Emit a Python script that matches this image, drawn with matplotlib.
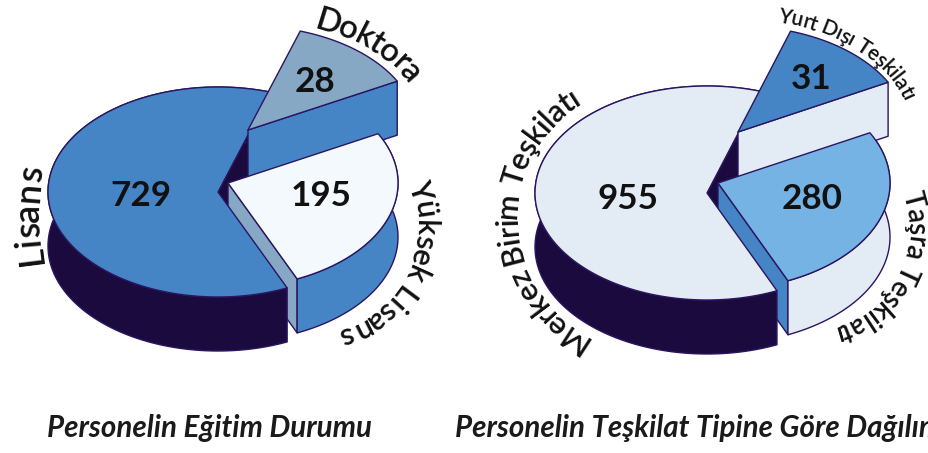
import numpy as np
import matplotlib
matplotlib.use('Agg')
import matplotlib.pyplot as plt
from matplotlib import font_manager as fm
from matplotlib.patches import Polygon
from matplotlib.textpath import TextPath

# chart values
edu_labels = ['Lisans', 'Yüksek Lisans', 'Doktora']
edu_values = [729, 195, 28]
org_labels = ['Merkez Birim Teşkilatı', 'Taşra Teşkilatı', 'Yurt Dışı Teşkilatı']
org_values = [955, 280, 31]
# slice sweeps as drawn in the picture (not proportional to the values there)
edu_sweeps = [222, 94, 44]
org_sweeps = [222, 94, 44]
edu_title = 'Personelin Eğitim Durumu'
org_title = 'Personelin Teşkilat Tipine Göre Dağılımı'

START_ANGLE = 72
DEPTH = 54
LINE = '#2A1560'
DARK = '#1B0A3D'
BLUE = '#4585C5'
GREY_BLUE = '#87A8C4'
WHITE_BLUE = '#F4F9FE'
PALE = '#E3EBF4'
SKY = '#74B3E3'

FONT = 'Lato'
PX = 0.72  # pixels to points at dpi=100


def arc(cx, cy, rx, ry, a0, a1, n=120):
    t = np.radians(np.linspace(a0, a1, n))
    return np.column_stack([cx + rx * np.cos(t), cy - ry * np.sin(t)])


def poly(ax, pts, color, zorder):
    ax.add_patch(Polygon(pts, closed=True, facecolor=color, edgecolor=LINE,
                         linewidth=1.0, joinstyle='round', zorder=zorder))


def draw_slice(ax, centre, radii, a0, sweep, top, wall, radial, z_radial, z_wall, z_top):
    cx, cy = centre
    rx, ry = radii
    rim = arc(cx, cy, rx, ry, a0, a0 + sweep)
    low = rim + [0, DEPTH]
    # side wall along the rim
    if wall is not None:
        poly(ax, np.vstack([rim, low[::-1]]), wall, z_wall)
    # cut face of the slice
    p = rim[0]
    poly(ax, [[cx, cy], p, p + [0, DEPTH], [cx, cy + DEPTH]], radial, z_radial)
    poly(ax, np.vstack([[cx, cy], rim]), top, z_top)


def curved_label(ax, text, cx, cy, rx, ry, mid, size, squeeze=1.0, weight='semibold'):
    """Place text letter by letter clockwise along an ellipse, centred on angle mid"""
    fp = fm.FontProperties(family=FONT, weight=weight)
    font = fm.get_font(fm.findfont(fp))
    font.set_size(size * PX, 100)
    full_adv = [font.load_char(ord(c)).linearHoriAdvance / 65536 for c in text]
    total = squeeze * sum(full_adv)

    t = np.radians(np.linspace(mid + 170, mid - 170, 3001))
    xs = cx + rx * np.cos(t)
    ys = cy - ry * np.sin(t)
    s = np.concatenate([[0], np.cumsum(np.hypot(np.diff(xs), np.diff(ys)))])
    s -= s[1500]

    pos = -total / 2
    for c, w in zip(text, full_adv):
        # matplotlib centres on the ink, so correct for the side bearings
        ink = 0
        if c != ' ':
            box = TextPath((0, 0), c, size=size, prop=fp).get_extents()
            ink = (box.x0 + box.x1) / 2 - w / 2
        at = pos + squeeze * w / 2 + ink
        x = np.interp(at, s, xs)
        y = np.interp(at, s, ys)
        tt = np.interp(at, s, t)
        rot = np.degrees(np.arctan2(-ry * np.cos(tt), rx * np.sin(tt)))
        ax.text(x, y, c, fontsize=size * PX, family=FONT, weight=weight, color='#111111',
                rotation=rot, rotation_mode='anchor', ha='center', va='baseline', zorder=20)
        pos += squeeze * w


fig = plt.figure(figsize=(9.29, 4.53), dpi=100, facecolor='white')
ax = fig.add_axes([0, 0, 1, 1])
ax.set_xlim(0, 929)
ax.set_ylim(453, 0)
ax.axis('off')

# left pie
a_main = START_ANGLE
a_mid = a_main + edu_sweeps[0]
a_small = a_mid + edu_sweeps[1]
draw_slice(ax, (218, 192), (170, 105), a_main, edu_sweeps[0], BLUE, DARK, DARK, 1, 5, 6)
draw_slice(ax, (228, 183), (170, 105), a_mid, edu_sweeps[1], WHITE_BLUE, BLUE, GREY_BLUE, 3, 4, 9)
draw_slice(ax, (248, 130), (169, 104), a_small, edu_sweeps[2], GREY_BLUE, None, BLUE, 7, 2, 8)

# right pie
a_mid = a_main + org_sweeps[0]
a_small = a_mid + org_sweeps[1]
draw_slice(ax, (707, 193), (172, 107), a_main, org_sweeps[0], PALE, DARK, DARK, 1, 5, 6)
draw_slice(ax, (718, 183), (172, 107), a_mid, org_sweeps[1], SKY, PALE, BLUE, 3, 4, 9)
draw_slice(ax, (738, 132), (170, 106), a_small, org_sweeps[2], BLUE, None, PALE, 7, 2, 8)

# values on the slices
num_pos = [(141, 196), (321, 196), (315, 82), (628, 199), (812, 199), (811, 79)]
for (x, y), v in zip(num_pos, edu_values + org_values):
    ax.text(x, y, str(v), fontsize=35 * PX, family=FONT, weight='bold', color='#111111',
            ha='center', va='center', zorder=21)

# curved labels
curved_label(ax, edu_labels[0], 339, 216, 300, 300, 180, 36)
curved_label(ax, edu_labels[1], 309, 226, 107, 107, -26, 31, 0.95)
curved_label(ax, edu_labels[2], 248, 130, 176, 110, 48, 33, 0.93)
curved_label(ax, org_labels[0], 655, 218, 138, 135, 182, 31, 0.93)
curved_label(ax, org_labels[1], 806, 228, 102, 102, -28, 28, 0.95)
curved_label(ax, org_labels[2], 738, 132, 172, 113, 49, 21, 0.95)

# titles, the second one runs off the right edge as in the reference
ax.text(47, 428, edu_title, fontsize=29.5 * PX, family=FONT, style='italic', weight='bold',
        color='#1a1a1a', ha='left', va='center', clip_on=False)
ax.text(455, 428, org_title, fontsize=29.5 * PX, family=FONT, style='italic', weight='bold',
        color='#1a1a1a', ha='left', va='center', clip_on=False)

fig.savefig('out.png', dpi=100)
